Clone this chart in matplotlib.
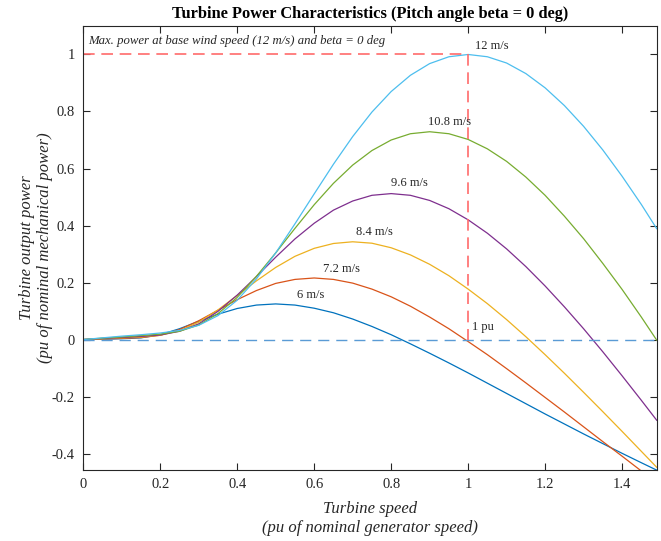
import matplotlib
matplotlib.use("Agg")
import matplotlib.pyplot as plt

plt.rcParams['font.family'] = ['Liberation Serif', 'DejaVu Serif']
plt.rcParams['axes.unicode_minus'] = False

# Turbine speed (pu)
speed = [0, 0.05, 0.1, 0.15, 0.2, 0.25, 0.3, 0.35, 0.4, 0.45, 0.5, 0.55, 0.6, 0.65,
         0.7, 0.75, 0.8, 0.85, 0.9, 0.95, 1.0, 1.05, 1.1, 1.15, 1.2, 1.25, 1.3, 1.35,
         1.4, 1.45, 1.49]

# Turbine output power (pu) for each wind speed
p_6 = [0, 0.001, 0.003, 0.006, 0.017, 0.038, 0.064, 0.089, 0.109, 0.121, 0.125, 0.121,
       0.110, 0.094, 0.072, 0.046, 0.017, -0.015, -0.048, -0.082, -0.117, -0.153, -0.189,
       -0.225, -0.261, -0.296, -0.331, -0.365, -0.399, -0.432, -0.458]
p_72 = [0, 0.002, 0.004, 0.007, 0.015, 0.035, 0.066, 0.103, 0.140, 0.172, 0.197, 0.211,
        0.216, 0.211, 0.198, 0.177, 0.150, 0.117, 0.079, 0.038, -0.007, -0.053, -0.102,
        -0.152, -0.203, -0.254, -0.306, -0.358, -0.409, -0.461, -0.502]
p_84 = [0, 0.003, 0.006, 0.009, 0.015, 0.031, 0.061, 0.104, 0.155, 0.206, 0.253, 0.292,
        0.320, 0.337, 0.343, 0.338, 0.322, 0.297, 0.264, 0.224, 0.177, 0.126, 0.070,
        0.010, -0.053, -0.118, -0.185, -0.253, -0.322, -0.392, -0.448]
p_96 = [0, 0.004, 0.007, 0.011, 0.016, 0.029, 0.055, 0.099, 0.156, 0.221, 0.289, 0.353,
        0.408, 0.454, 0.486, 0.506, 0.512, 0.506, 0.488, 0.459, 0.420, 0.373, 0.318,
        0.256, 0.188, 0.115, 0.038, -0.043, -0.127, -0.213, -0.283]
p_108 = [0, 0.005, 0.009, 0.014, 0.019, 0.029, 0.051, 0.091, 0.148, 0.222, 0.304, 0.390,
         0.473, 0.548, 0.612, 0.663, 0.700, 0.722, 0.729, 0.722, 0.702, 0.669, 0.625,
         0.570, 0.506, 0.433, 0.354, 0.267, 0.176, 0.079, -0.002]
p_12 = [0, 0.006, 0.012, 0.017, 0.023, 0.032, 0.050, 0.084, 0.138, 0.213, 0.304, 0.406,
        0.511, 0.615, 0.712, 0.798, 0.870, 0.927, 0.968, 0.992, 1.000, 0.992, 0.970,
        0.933, 0.883, 0.821, 0.748, 0.665, 0.573, 0.474, 0.389]

series = [p_6, p_72, p_84, p_96, p_108, p_12]
wind_labels = ["6 m/s", "7.2 m/s", "8.4 m/s", "9.6 m/s", "10.8 m/s", "12 m/s"]
label_x = [0.555, 0.623, 0.708, 0.80, 0.895, 1.017]
label_y = [0.155, 0.246, 0.377, 0.549, 0.764, 1.029]
colors = ["#0072BD", "#D95319", "#EDB120", "#7E2F8E", "#77AC30", "#4DBEEE"]

xticks = [0, 0.2, 0.4, 0.6, 0.8, 1.0, 1.2, 1.4]
xticklabels = ["0", "0.2", "0.4", "0.6", "0.8", "1", "1.2", "1.4"]
yticks = [-0.4, -0.2, 0, 0.2, 0.4, 0.6, 0.8, 1.0]
yticklabels = ["-0.4", "-0.2", "0", "0.2", "0.4", "0.6", "0.8", "1"]

fig = plt.figure(figsize=(6.61, 5.41), dpi=100)
ax = fig.add_axes([0.126, 0.131, 0.8675, 0.821])

for ys, c in zip(series, colors):
    ax.plot(speed, ys, color=c, lw=0.9)

ax.plot([0, 1.49], [0, 0], color="#5a9bd5", lw=1.0, dashes=(8, 5))
ax.plot([0, 1], [1, 1], color="#ff6b6b", lw=1.2, dashes=(7, 4))
ax.plot([1, 1], [1, 0], color="#ff6b6b", lw=1.2, dashes=(7, 4))

for t, x, y in zip(wind_labels, label_x, label_y):
    ax.text(x, y, t, fontsize=9, color="#262626", va="center", ha="left")
ax.text(1.009, 0.043, "1 pu", fontsize=9, color="#262626", va="center", ha="left")
ax.text(0.013, 1.047, "Max. power at base wind speed (12 m/s) and beta = 0 deg",
        fontsize=9.2, style="italic", color="#262626", va="center", ha="left")

ax.set_xlim(0, 1.49)
ax.set_ylim(-0.458, 1.1)
ax.set_xticks(xticks)
ax.set_xticklabels(xticklabels)
ax.set_yticks(yticks)
ax.set_yticklabels(yticklabels)
ax.tick_params(direction="in", length=5, width=0.8, labelsize=10.5, colors="#262626",
               top=True, right=True, pad=6)
for s in ax.spines.values():
    s.set_color("#262626")
    s.set_linewidth(0.8)

ax.set_title("Turbine Power Characteristics (Pitch angle beta = 0 deg)",
             fontsize=11.8, fontweight="bold", pad=6)
ax.set_xlabel("Turbine speed\n(pu of nominal generator speed)", fontsize=12,
              style="italic", color="#262626", linespacing=1.2, labelpad=7)
ax.set_ylabel("Turbine output power\n(pu of nominal mechanical power)", fontsize=12,
              style="italic", color="#262626", linespacing=1.2, labelpad=-1)

fig.savefig("out.png", dpi=100)
